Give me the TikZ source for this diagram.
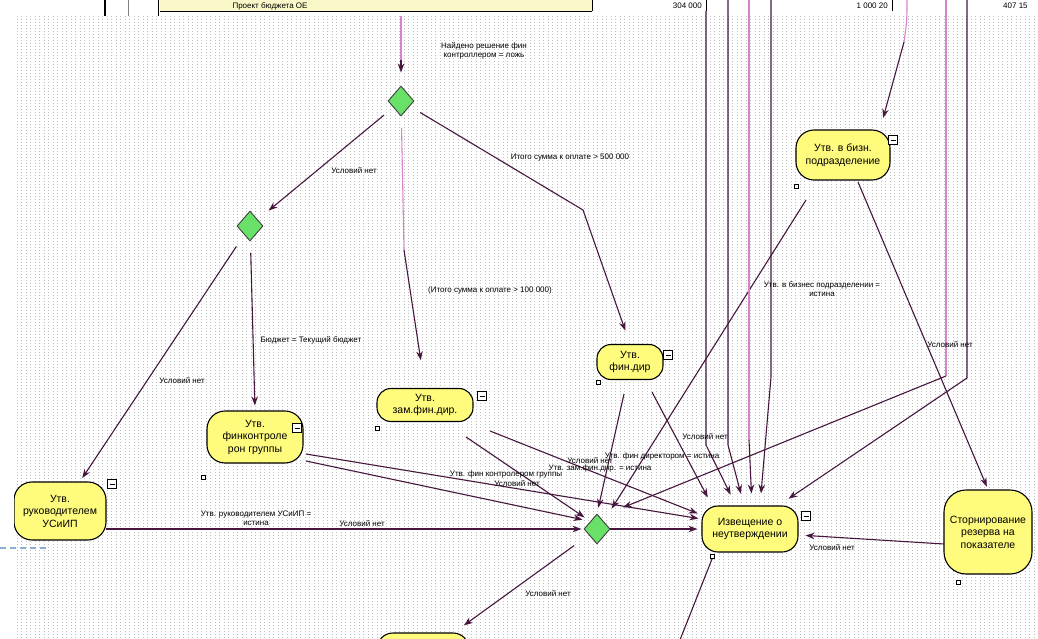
\documentclass[tikz,border=0pt]{standalone}
\usepackage{fontspec}
\setmainfont{Liberation Sans}
\usetikzlibrary{shapes.geometric,arrows.meta,calc}
\definecolor{procyellow}{RGB}{255,252,125}
\definecolor{stripyellow}{RGB}{250,248,200}
\definecolor{diagreen}{RGB}{105,225,105}
\definecolor{linecol}{RGB}{70,22,62}
\definecolor{pinkcol}{RGB}{215,130,205}
\definecolor{gridcol}{RGB}{190,190,190}
\definecolor{slideblue}{RGB}{140,175,210}
\begin{document}
\begin{tikzpicture}[x=1pt,y=-1pt,
  proc/.style={draw=black, line width=1.1pt, fill=procyellow, align=center,
    font=\fontsize{10.5}{12.5}\selectfont, inner sep=1pt},
  dia/.style={diamond, draw=black!75, fill=diagreen, line width=0.9pt,
    minimum width=26pt, minimum height=30pt, inner sep=0pt},
  conn/.style={draw=linecol, line width=1.1pt, -{Stealth[length=9pt,width=6.5pt]}},
  plainline/.style={draw=linecol, line width=1.1pt},
  pinkline/.style={draw=pinkcol, line width=1.1pt},
  lbl/.style={font=\fontsize{8}{9}\selectfont, inner sep=0.5pt, align=center},
  toptext/.style={font=\fontsize{8}{9}\selectfont, inner sep=0pt},
  minusbox/.style={draw=black, line width=0.7pt, fill=white, minimum size=9pt, inner sep=0pt,
    path picture={\draw[line width=0.8pt] ([xshift=2pt]path picture bounding box.west) -- ([xshift=-2pt]path picture bounding box.east);}},
  tinysq/.style={draw=black, line width=0.6pt, fill=white, minimum size=4pt, inner sep=0pt},
]
\useasboundingbox (0,0) rectangle (1038,639);
\clip (0,0) rectangle (1038,639);
\fill[white] (0,0) rectangle (1038,639);
% dotted grid
\foreach \x in {17,21.5,...,1036}
  \draw[gridcol, line width=0.8pt, dash pattern=on 0.8pt off 2.2pt] (\x,16) -- (\x,639);

% top table strip
\fill[stripyellow] (160,0) rectangle (592,11);
\draw[black, line width=0.8pt] (160,11) -- (592,11) (592,0) -- (592,11);
\draw[black, line width=1.4pt] (105,0) -- (105,16);
\draw[gray, line width=0.6pt] (128,0) -- (128,16);
\draw[black, line width=1pt] (158,0) -- (158,16);
\draw[black, line width=0.8pt] (706,0) -- (706,11) (892,0) -- (892,11);
\node[toptext, anchor=base] (tt1) at (270,9) {Проект бюджета ОЕ};
\node[toptext, anchor=base east] (tt2) at (702,9) {304 000};
\node[toptext, anchor=base east] (tt3) at (888,9) {1 000 20};
\node[toptext, anchor=base west] (tt4) at (1003,9) {407 15};

% nodes
\node[dia] (D1) at (401,101) {};
\node[dia] (D2) at (250,226) {};
\node[dia] (D3) at (597,529) {};
\node[proc, minimum width=96pt, minimum height=33pt, rounded corners=14pt] (zam) at (425,405) {Утв.\\зам.фин.дир.};
\node[proc, minimum width=66pt, minimum height=35pt, rounded corners=14pt] (findir) at (630,362) {Утв.\\фин.дир};
\node[proc, minimum width=96pt, minimum height=52pt, rounded corners=18pt] (fk) at (255,437) {Утв.\\финконтроле\\рон группы};
\node[proc, minimum width=92pt, minimum height=58pt, rounded corners=18pt] (ruk) at (60,511) {Утв.\\руководителем\\УСиИП};
\node[proc, minimum width=96pt, minimum height=46pt, rounded corners=16pt] (izv) at (750,529) {Извещение о\\неутверждении};
\node[proc, minimum width=88pt, minimum height=84pt, rounded corners=22pt] (storn) at (988,532) {Сторнирование\\резерва на\\показателе};
\node[proc, minimum width=94pt, minimum height=50pt, rounded corners=18pt] (biz) at (843,155) {Утв. в бизн.\\подразделение};
\node[proc, minimum width=92pt, minimum height=44pt, rounded corners=16pt] (bot) at (423,655) {};

% minus boxes and small squares
\node[minusbox] (mzam) at (482,396) {};
\node[minusbox] (mfindir) at (668,355) {};
\node[minusbox] (mfk) at (297,428) {};
\node[minusbox] (mruk) at (112,484) {};
\node[minusbox] (mizv) at (806,516) {};
\node[minusbox] (mbiz) at (893,140) {};
\node[tinysq] (szam) at (377,428) {};
\node[tinysq] (sfindir) at (598,382) {};
\node[tinysq] (sfk) at (203,477) {};
\node[tinysq] (sizv) at (712,556) {};
\node[tinysq] (sbiz) at (796,186) {};
\node[tinysq] (sstorn) at (958,582) {};

% coordinates
\coordinate (t1) at (401,16);
\coordinate (t1b) at (401,60);
\coordinate (z1) at (404,250);
\coordinate (f1) at (583,210);
\coordinate (r0) at (106,529);
\coordinate (fk1) at (306,454);
\coordinate (fk2) at (306,461);
\coordinate (za1) at (466,437);
\coordinate (za2) at (490,431);
\coordinate (fd1) at (624,394);
\coordinate (fd2) at (652,392);
\coordinate (bz1) at (806,200);
\coordinate (bz2) at (858,182);
\coordinate (st1) at (944,544);
\coordinate (iz1) at (712,559);
\coordinate (iz2) at (676,650);
\coordinate (v1a) at (706,11);  \coordinate (v1b) at (706,445);
\coordinate (v2a) at (728,0);  \coordinate (v2b) at (728,445);
\coordinate (v3a) at (749,0);  \coordinate (v3b) at (749,440);
\coordinate (v4a) at (771,0);  \coordinate (v4b) at (771,377);
\coordinate (r1a) at (946,0);  \coordinate (r1b) at (946,376);
\coordinate (r2a) at (967,0);  \coordinate (r2b) at (967,378);
\coordinate (p1a) at (907,0);  \coordinate (p1b) at (904,42);

% connectors
\draw[pinkline] (t1) -- (t1b);
\draw[conn, shorten >=13pt] (t1b) -- (D1.north);
\draw[conn, shorten <=12pt, shorten >=14pt] (D1) -- (D2);
\draw[pinkline, shorten <=12pt] (D1) -- (z1);
\draw[conn, shorten >=28pt] (z1) -- (zam.north);
\draw[conn, shorten <=12pt, shorten >=14pt] (D1) -- (f1) -- (findir.north);
\draw[conn, shorten <=12pt, shorten >=5pt] (D2) -- (fk.north);
\draw[conn, shorten <=14pt, shorten >=4pt] (D2) -- ([xshift=20pt]ruk.north);
\draw[conn, shorten >=2pt] (r0) -- (D3.west);
\draw[conn, shorten >=4pt] (D3.east) -- (izv.west);
\draw[conn, shorten >=3pt] (fk1) -- ([yshift=10pt]izv.west);
\draw[conn, shorten >=8pt] (fk2) -- (D3.north west);
\draw[conn, shorten >=7pt] (za1) -- (D3.north west);
\draw[conn, shorten >=4pt] (za2) -- ([yshift=14pt]izv.west);
\draw[conn, shorten >=6pt] (fd1) -- (D3.north);
\draw[conn, shorten >=9pt] (fd2) -- ([xshift=-38pt]izv.north);
\draw[conn, shorten >=15pt] (bz1) -- (D3.north east);
\draw[conn, shorten >=3pt] (bz2) -- (storn.north);
\draw[conn, shorten >=7pt] (st1) -- ([yshift=-6pt]izv.east);
\draw[conn, shorten <=18pt, shorten >=12pt] (D3) -- (bot);
\draw[plainline] (iz1) -- (iz2);
\draw[conn, shorten >=12pt] (v1a) -- (v1b) -- ([xshift=-14pt]izv.north);
\draw[conn, shorten >=12pt] (v2a) -- (v2b) -- ([xshift=-6pt]izv.north);
\draw[pinkline] (v3a) -- (v3b);
\draw[conn, shorten >=12pt] (v3b) -- ([xshift=2pt]izv.north);
\draw[conn, shorten >=12pt] (v4a) -- (v4b) -- ([xshift=10pt]izv.north);
\draw[pinkline] (r1a) -- (r1b);
\draw[conn, shorten >=10pt] (r1b) -- ([xshift=10pt,yshift=10pt]D3.north east);
\draw[conn, shorten >=12pt] (r2a) -- (r2b) -- ([xshift=-20pt]izv.north east);
\draw[pinkline] (p1a) .. controls (907,20) .. (p1b);
\draw[conn, shorten >=12pt] (p1b) -- ([xshift=37pt]biz.north);

% labels
\node[lbl] (L1) at (484,51) {Найдено решение фин\\контроллером = ложь};
\node[lbl] (L2) at (354,171) {Условий нет};
\node[lbl] (L3) at (570,158) {Итого сумма к оплате > 500 000};
\node[lbl] (L4) at (490,290) {(Итого сумма к оплате > 100 000)};
\node[lbl] (L5) at (311,340) {Бюджет = Текущий бюджет};
\node[lbl] (L6) at (182,381) {Условий нет};
\node[lbl] (L7) at (256,518) {Утв. руководителем УСиИП =\\истина};
\node[lbl] (L8) at (362,524) {Условий нет};
\node[lbl] (L9) at (506,474) {Утв. фин контролером группы};
\node[lbl] (L10) at (517,484) {Условий нет};
\node[lbl] (L11) at (600,468) {Утв. зам.фин.дир. = истина};
\node[lbl] (L12) at (590,461) {Условий нет};
\node[lbl] (L13) at (662,456) {Утв. фин директором = истина};
\node[lbl] (L14) at (705,437) {Условий нет};
\node[lbl] (L15) at (822,289) {Утв. в бизнес подразделении =\\истина};
\node[lbl] (L16) at (950,345) {Условий нет};
\node[lbl] (L17) at (832,548) {Условий нет};
\node[lbl] (L18) at (548,594) {Условий нет};

% left slide margin
\fill[white] (0,16) rectangle (14,639);
\draw[slideblue, line width=1.2pt, dash pattern=on 6pt off 4pt] (0,548) -- (46,548);
\end{tikzpicture}
\end{document}
